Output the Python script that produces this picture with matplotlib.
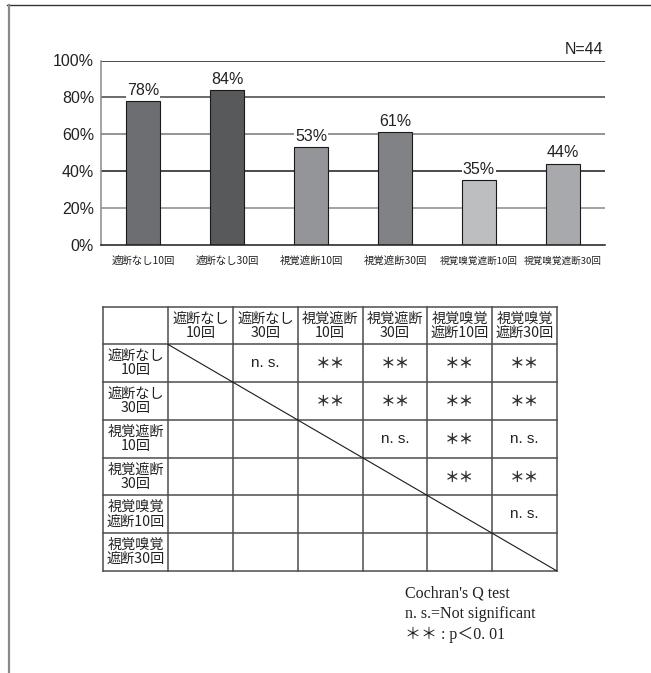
import matplotlib
matplotlib.use("Agg")
import matplotlib.pyplot as plt
from matplotlib.lines import Line2D

# data
categories = ["遮断なし10回", "遮断なし30回", "視覚遮断10回",
              "視覚遮断30回", "視覚嗅覚遮断10回", "視覚嗅覚遮断30回"]
rates = [78, 84, 53, 61, 35, 44]
bar_colors = ["#6d6e71", "#58595b", "#939598", "#808285", "#bcbec0", "#a7a9ac"]
yticks = [0, 20, 40, 60, 80, 100]
grid_colors = {20: "#8a8a8a", 40: "#1a1a1a", 60: "#777777", 80: "#444444", 100: "#1a1a1a"}

headers = ["遮断なし\n10回", "遮断なし\n30回", "視覚遮断\n10回",
           "視覚遮断\n30回", "視覚嗅覚\n遮断10回", "視覚嗅覚\n遮断30回"]
sig = [
    ["", "n. s.", "＊＊", "＊＊", "＊＊", "＊＊"],
    ["", "", "＊＊", "＊＊", "＊＊", "＊＊"],
    ["", "", "", "n. s.", "＊＊", "n. s."],
    ["", "", "", "", "＊＊", "＊＊"],
    ["", "", "", "", "", "n. s."],
    ["", "", "", "", "", ""],
]
notes = ["Cochran's Q test", "n. s.=Not significant", "＊＊ : p＜0. 01"]

cjk = ["Noto Sans CJK JP", "DejaVu Sans"]
sans = ["Liberation Sans", "DejaVu Sans"]

fig = plt.figure(figsize=(6.51, 6.73), dpi=100)

# page frame
fig.add_artist(Line2D([7/651, 1], [1-5/673, 1-5/673], color="#333333", lw=1.0))
fig.add_artist(Line2D([9/651, 9/651], [0, 1-5/673], color="#8a8a8a", lw=1.6))

# bar chart
ax = fig.add_axes([101/651, 1-245/673, 504/651, 184.5/673])
x = list(range(len(categories)))
for v in yticks[1:]:
    ax.axhline(v, color=grid_colors[v], lw=1.1, zorder=1)
bars = ax.bar(x, rates, width=0.4, color=bar_colors, edgecolor="#1a1a1a", lw=0.8, zorder=2)
for b, v in zip(bars, rates):
    ax.annotate(f"{v}%", (b.get_x() + b.get_width()/2, v), xytext=(0, 2.5),
                textcoords="offset points", ha="center", va="bottom",
                fontsize=11.5, family=sans, color="#222222", zorder=3,
                bbox=dict(facecolor="white", edgecolor="none", pad=0.5))
ax.set_xlim(-0.5, 5.5)
ax.set_ylim(0, 100)
ax.set_yticks(yticks)
ax.set_yticklabels([f"{v}%" for v in yticks], fontsize=11.5, family=sans, color="#222222")
ax.set_xticks(x)
ax.set_xticklabels(categories, fontsize=7.5, family=cjk, color="#222222")
for lab in ax.get_xticklabels()[4:]:
    lab.set_fontsize(6.9)
ax.tick_params(length=0)
ax.tick_params(axis="y", pad=5)
ax.tick_params(axis="x", pad=8)
for s in ["top", "right"]:
    ax.spines[s].set_visible(False)
ax.spines["left"].set_color("#8a8a8a")
ax.spines["left"].set_linewidth(1.1)
ax.spines["bottom"].set_color("#1a1a1a")
ax.spines["bottom"].set_linewidth(1.1)
fig.text(603/651, 1-49/673, "N=44", ha="right", va="center", fontsize=11.5,
         family=sans, color="#222222")

# significance table
tx = fig.add_axes([103.3/651, 1-571/673, 453.7/651, 264.3/673])
n = len(headers) + 1
tx.set_xlim(0, n)
tx.set_ylim(n, 0)
tx.axis("off")
for i in range(n + 1):
    tx.plot([0, n], [i, i], color="#4d4d4d", lw=1.1, clip_on=False)
    tx.plot([i, i], [0, n], color="#4d4d4d", lw=1.1, clip_on=False)
tx.plot([1, n], [1, n], color="#1a1a1a", lw=0.8)
for j, h in enumerate(headers):
    tx.text(j + 1.5, 0.5, h, ha="center", va="center", fontsize=10.2,
            family=cjk, linespacing=1.02, color="#222222")
    tx.text(0.5, j + 1.5, h, ha="center", va="center", fontsize=10.2,
            family=cjk, linespacing=1.02, color="#222222")
for r, row in enumerate(sig):
    for c, s in enumerate(row):
        if s:
            if s.startswith("n"):
                tx.text(c + 1.5, r + 1.5, s, ha="center", va="center",
                        fontsize=11, family=sans, color="#222222")
            else:
                tx.text(c + 1.5, r + 1.5, s, ha="center", va="center",
                        fontsize=10.5, family=cjk, fontweight="bold", color="#333333")

# footnote
for k, t in enumerate(notes):
    fig.text(405/651, 1-(594 + 20.5*k)/673, t, ha="left", va="center",
             fontsize=11.5, family=["Liberation Serif", "Noto Sans CJK JP"],
             color="#222222")

fig.savefig("out.png", dpi=100, facecolor="white")
